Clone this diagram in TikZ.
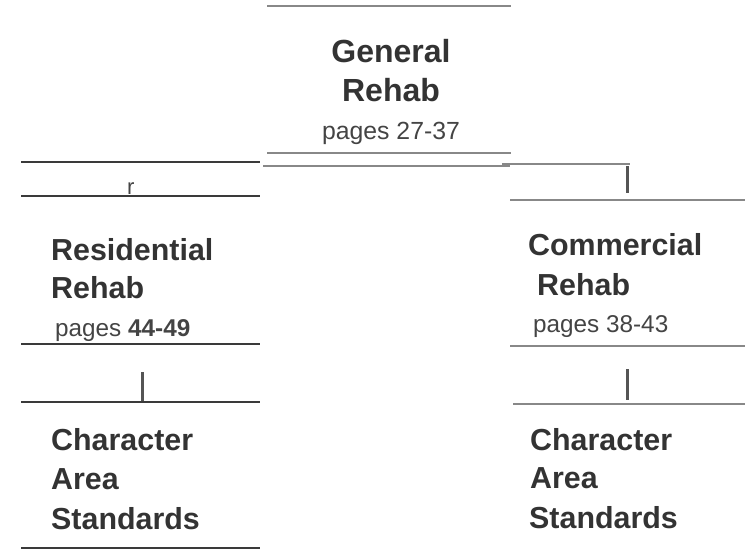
\documentclass[tikz,border=0pt]{standalone}
\usepackage{fontspec}
\setmainfont{Liberation Sans}
\definecolor{txt}{HTML}{333333}
\definecolor{txtl}{HTML}{444444}
\definecolor{ldark}{HTML}{3A3A3A}
\definecolor{lgray}{HTML}{888888}
\definecolor{tick}{HTML}{555555}
\begin{document}
\begin{tikzpicture}[x=1pt,y=-1pt,
  bt/.style={font=\fontsize{30.4}{30}\selectfont\bfseries, text=txt, inner sep=0pt, anchor=base west},
  btc/.style={bt, font=\fontsize{32}{32}\selectfont\bfseries, anchor=base},
  rt/.style={font=\fontsize{24.3}{24}\selectfont, text=txtl, inner sep=0pt, anchor=base west},
  rtc/.style={rt, font=\fontsize{24.8}{24}\selectfont, anchor=base},
  rule/.style={draw=ldark, line width=1.2pt},
  grule/.style={draw=lgray, line width=1.6pt},
  tk/.style={draw=tick, line width=3pt}]
\useasboundingbox (0,0) rectangle (745,549);
% General Rehab
\draw[grule,line width=1.2pt] (267,6) -- (511,6);
\node[btc] (g1) at (391,62) {General};
\node[btc] (g2) at (391,101) {Rehab};
\node[rtc] (g3) at (391,139) {pages 27-37};
\draw[grule] (267,153) -- (511,153);
\draw[grule] (263,166) -- (510,166);
\draw[grule,line width=2pt] (502,164) -- (630,164);
\draw[tk] (627,166) -- (627,193);
% Left column
\draw[rule] (21,162) -- (260,162);
\node[rt,font=\fontsize{22}{22}\selectfont] (r) at (127,194) {r};
\draw[rule] (21,196) -- (260,196);
\node[bt] (l1) at (51,260) {Residential};
\node[bt] (l2) at (51,298) {Rehab};
\node[rt] (l3) at (55,336) {pages \textbf{44-49}};
\draw[rule] (21,344) -- (260,344);
\draw[tk] (142,372) -- (142,403);
\draw[rule] (21,402) -- (260,402);
\node[bt] (l4) at (51,450) {Character};
\node[bt] (l5) at (51,489) {Area};
\node[bt] (l6) at (51,529) {Standards};
\draw[rule] (21,548) -- (260,548);
% Right column
\draw[rule,draw=lgray] (510,200) -- (745,200);
\node[bt] (c1) at (528,255) {Commercial};
\node[bt] (c2) at (537,295) {Rehab};
\node[rt] (c3) at (533,332) {pages 38-43};
\draw[rule,draw=lgray] (510,346) -- (745,346);
\draw[tk] (627,369) -- (627,400);
\draw[rule,draw=lgray] (513,404) -- (745,404);
\node[bt] (c4) at (530,450) {Character};
\node[bt] (c5) at (530,488) {Area};
\node[bt] (c6) at (529,528) {Standards};
\end{tikzpicture}
\end{document}
